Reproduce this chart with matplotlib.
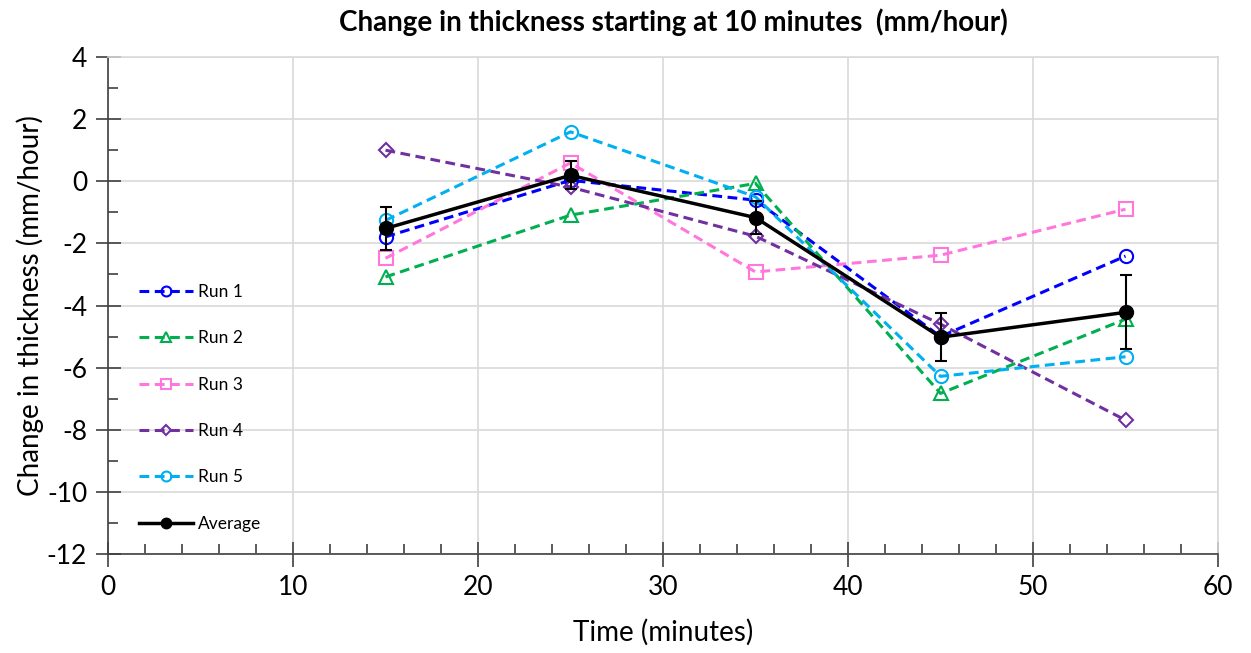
import matplotlib
matplotlib.use("Agg")
import matplotlib.pyplot as plt
from matplotlib.ticker import MultipleLocator
from matplotlib.lines import Line2D

plt.rcParams['font.family'] = ['Lato', 'DejaVu Sans']
plt.rcParams['axes.unicode_minus'] = False

time_min = [15, 25, 35, 45, 55]
run1 = [-1.79, 0.03, -0.61, -5.00, -2.41]
run2 = [-3.08, -1.09, -0.07, -6.83, -4.44]
run3 = [-2.48, 0.59, -2.92, -2.38, -0.90]
run4 = [1.00, -0.19, -1.77, -4.60, -7.69]
run5 = [-1.26, 1.59, -0.50, -6.28, -5.65]
average = [-1.52, 0.19, -1.17, -5.02, -4.22]
avg_err = [0.70, 0.45, 0.52, 0.78, 1.19]

series = [
    ("Run 1", run1, "#0000FF", "o"),
    ("Run 2", run2, "#00B050", "^"),
    ("Run 3", run3, "#FF77DD", "s"),
    ("Run 4", run4, "#7030A0", "D"),
    ("Run 5", run5, "#00B0F0", "o"),
]

fig = plt.figure(figsize=(12.51, 6.53), dpi=100)
ax = fig.add_axes([108/1251, 1-554/653, (1218-108)/1251, (554-57)/653])

handles = []
for label, vals, col, mk in series:
    ms = 7 if mk == "D" else 9.5
    ax.plot(time_min, vals, linestyle=(0, (3.2, 1.8)), color=col, lw=2.2,
            marker=mk, markersize=ms, markerfacecolor='none',
            markeredgecolor=col, markeredgewidth=1.5, zorder=3)
    handles.append(Line2D([], [], linestyle=(0, (3.2, 1.8)), color=col, lw=2.2,
                          marker=mk, markersize=ms * 0.75, markerfacecolor='none',
                          markeredgecolor=col, markeredgewidth=1.5, label=label))

ax.errorbar(time_min, average, yerr=avg_err, color='black', lw=2.5,
            marker='o', markersize=10, ecolor='black', elinewidth=1.5,
            capsize=4, capthick=1.5, zorder=4)
handles.append(Line2D([], [], color='black', lw=2.5, marker='o', markersize=7.5,
                      label='Average'))

ax.set_xlim(0, 60)
ax.set_ylim(-12, 4)
ax.xaxis.set_major_locator(MultipleLocator(10))
ax.xaxis.set_minor_locator(MultipleLocator(2))
ax.yaxis.set_major_locator(MultipleLocator(2))
ax.yaxis.set_minor_locator(MultipleLocator(1))
ax.grid(True, which='major', color='#D9D9D9', lw=1.2, zorder=0)
ax.set_axisbelow(True)
ax.tick_params(which='major', direction='inout', length=18, width=1.2,
               color='#404040', labelsize=19, pad=6)
ax.tick_params(which='minor', direction='in', length=7, width=1.2, color='#404040')
for side in ['left', 'bottom']:
    ax.spines[side].set_color('#404040')
    ax.spines[side].set_linewidth(1.2)
for side in ['top', 'right']:
    ax.spines[side].set_color('#D9D9D9')
    ax.spines[side].set_linewidth(1.2)

ax.set_xlabel('Time (minutes)', fontsize=20, labelpad=14)
ax.set_ylabel('Change in thickness (mm/hour)', fontsize=20, labelpad=2)
fig.text(0.538, 0.966, 'Change in thickness starting at 10 minutes  (mm/hour)',
         ha='center', va='center', fontsize=20, fontweight='bold')

leg = ax.legend(handles=handles, loc='upper left', bbox_to_anchor=(0.014, 0.575),
                frameon=False, fontsize=12.5, handlelength=3.1, labelspacing=1.75,
                handletextpad=0.3)

fig.savefig('out.png', dpi=100)
